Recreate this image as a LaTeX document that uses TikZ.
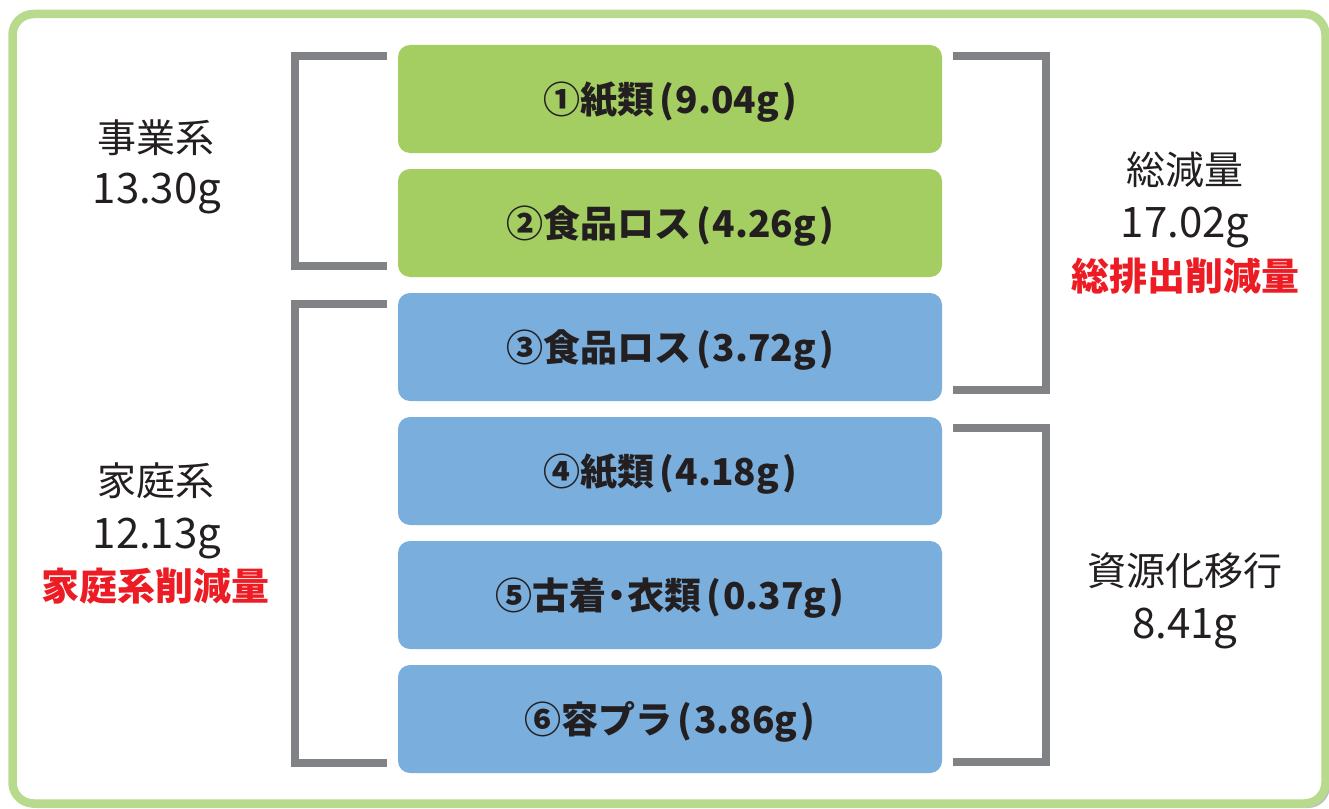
\documentclass[tikz,border=0pt]{standalone}
\usepackage{fontspec}
\setmainfont{Noto Sans CJK JP}
\definecolor{framegreen}{HTML}{B8DA8C}
\definecolor{boxgreen}{HTML}{A4CE62}
\definecolor{boxblue}{HTML}{7AAEDD}
\definecolor{brgray}{HTML}{818286}
\definecolor{txt}{HTML}{231F20}
\definecolor{redtxt}{HTML}{ED1C24}
\newcommand{\amt}[1]{\hspace{5pt}(\hspace{2pt}#1\hspace{3pt})}
\tikzset{
  item/.style={rounded corners=12pt, minimum width=544pt, minimum height=108pt, inner sep=0pt,
    text=txt, font=\fontsize{37}{42}\selectfont\bfseries, text height=28pt, text depth=0pt},
  gbox/.style={item, fill=boxgreen},
  bbox/.style={item, fill=boxblue},
  bracket/.style={draw=brgray, line width=8.5pt, line join=miter},
  lbl/.style={anchor=base, inner sep=0pt, text=txt, font=\fontsize{39}{46}\selectfont},
  num/.style={anchor=base, inner sep=0pt, text=txt, font=\fontsize{42}{46}\selectfont},
  redlbl/.style={anchor=base, inner sep=0pt, text=redtxt, font=\fontsize{38}{42}\selectfont\bfseries},
}
\begin{document}
\begin{tikzpicture}[x=1pt, y=-1pt]
\useasboundingbox (0,0) rectangle (1329,808);
% frame shadow and frame
\fill[black!25, rounded corners=22pt] (15,17) rectangle (1330,808);
\draw[framegreen, fill=white, line width=8.5pt, rounded corners=21pt] (12.5,14) rectangle (1325.5,803.5);
% boxes
\node[gbox] (b1) at (670,99) {①紙類\amt{9.04g}};
\node[gbox] (b2) at (670,223) {②食品ロス\amt{4.26g}};
\node[bbox] (b3) at (670,347) {③食品ロス\amt{3.72g}};
\node[bbox] (b4) at (670,471) {④紙類\amt{4.18g}};
\node[bbox] (b5) at (670,595) {⑤古着\kern-8pt・\kern-8pt衣類\amt{0.37g}};
\node[bbox] (b6) at (670,719) {⑥容プラ\amt{3.86g}};
% bracket coordinates
\coordinate (l1a) at (387,56);  \coordinate (l1b) at (295,56);
\coordinate (l1c) at (295,266); \coordinate (l1d) at (387,266);
\coordinate (l2a) at (387,304); \coordinate (l2b) at (295,304);
\coordinate (l2c) at (295,763); \coordinate (l2d) at (387,763);
\coordinate (r1a) at (953,56);  \coordinate (r1b) at (1046,56);
\coordinate (r1c) at (1046,390); \coordinate (r1d) at (953,390);
\coordinate (r2a) at (953,428); \coordinate (r2b) at (1046,428);
\coordinate (r2c) at (1046,762); \coordinate (r2d) at (953,762);
\draw[bracket] (l1a) -- (l1b) -- (l1c) -- (l1d);
\draw[bracket] (l2a) -- (l2b) -- (l2c) -- (l2d);
\draw[bracket] (r1a) -- (r1b) -- (r1c) -- (r1d);
\draw[bracket] (r2a) -- (r2b) -- (r2c) -- (r2d);
% labels
\node[lbl] (t1) at (156,152) {事業系};
\node[num] (t2) at (157,203) {13.30g};
\node[lbl] (t3) at (156,495) {家庭系};
\node[num] (t4) at (157,548) {12.13g};
\node[redlbl] (t5) at (155,600) {家庭系削減量};
\node[lbl] (t6) at (1185,184) {総減量};
\node[num] (t7) at (1185,237) {17.02g};
\node[redlbl] (t8) at (1185,290) {総排出削減量};
\node[lbl] (t9) at (1185,585) {資源化移行};
\node[num] (t10) at (1185,638) {8.41g};
\end{tikzpicture}
\end{document}
